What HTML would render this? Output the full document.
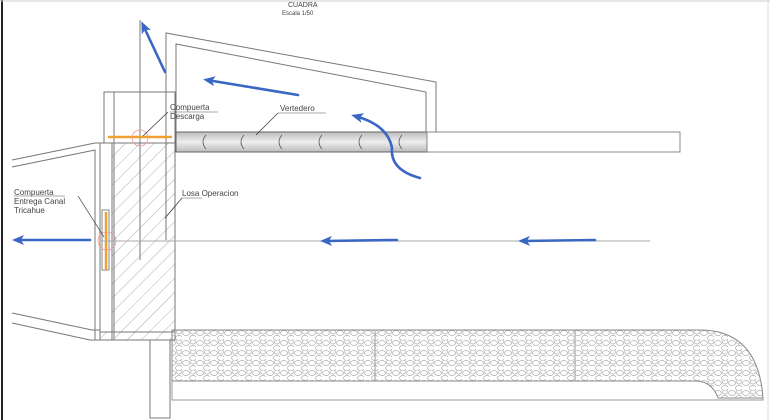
<!DOCTYPE html>
<html><head><style>body{margin:0;background:#fff}svg{display:block}text{font-family:"Liberation Sans",sans-serif;fill:#444}</style></head><body>
<svg width="770" height="420" viewBox="0 0 770 420" xmlns="http://www.w3.org/2000/svg">
<defs>
<pattern id="h" width="10" height="10" patternUnits="userSpaceOnUse" patternTransform="rotate(45)"><line x1="0" y1="0" x2="0" y2="10" stroke="#999" stroke-width="0.8"/></pattern>
<pattern id="g" width="14" height="10" patternUnits="userSpaceOnUse"><ellipse cx="4" cy="3" rx="3.5" ry="2.5" fill="none" stroke="#aaa" stroke-width="0.7"/><ellipse cx="11" cy="8" rx="3.5" ry="2.5" fill="none" stroke="#aaa" stroke-width="0.7"/><ellipse cx="11" cy="2" rx="2.5" ry="2" fill="none" stroke="#aaa" stroke-width="0.7"/></pattern>
<linearGradient id="sl" x1="0" y1="0" x2="0" y2="1"><stop offset="0" stop-color="#bbb"/><stop offset="0.5" stop-color="#eee"/><stop offset="1" stop-color="#bbb"/></linearGradient>
<marker id="a" markerWidth="12" markerHeight="10" refX="8" refY="5" orient="auto" markerUnits="userSpaceOnUse"><path d="M0,0 L12,5 L0,10 L3,5 Z" fill="#3a66c4"/></marker>
</defs>
<line x1="2" y1="0" x2="2" y2="420" stroke="#222" stroke-width="2"/>
<line x1="0" y1="1" x2="770" y2="1" stroke="#ccc"/>
<line x1="768" y1="0" x2="768" y2="420" stroke="#ddd"/>
<text x="288" y="7" font-size="7">CUADRA</text>
<text x="282" y="15" font-size="6">Escala 1/50</text>
<polyline points="166,152 166,33 436,82 436,132" fill="none" stroke="#777" stroke-width="1"/>
<polyline points="176,152 176,44 426,92 426,132" fill="none" stroke="#777" stroke-width="1"/>
<rect x="176" y="132" width="251" height="20" fill="url(#sl)" stroke="#666"/>
<rect x="427" y="132" width="253" height="20" fill="#fff" stroke="#888"/>
<g fill="none" stroke="#555" stroke-width="0.8">
<path d="M206,135 q-6,7 0,14"/><path d="M244,135 q-6,7 0,14"/><path d="M282,135 q-6,7 0,14"/><path d="M322,135 q-6,7 0,14"/><path d="M362,135 q-6,7 0,14"/><path d="M402,135 q-6,7 0,14"/>
</g>
<rect x="104" y="92" width="71" height="248" fill="none" stroke="#777"/>
<rect x="112" y="143" width="63" height="189" fill="url(#h)" stroke="#777"/>
<line x1="114" y1="92" x2="114" y2="340" stroke="#777"/>
<line x1="140" y1="20" x2="140" y2="260" stroke="#777"/>
<line x1="166" y1="92" x2="166" y2="240" stroke="#777"/>
<rect x="100" y="143" width="12" height="197" fill="#fff" stroke="#777"/>
<rect x="102" y="210" width="7" height="60" fill="#fff" stroke="#888"/>
<rect x="100" y="332" width="72" height="8" fill="url(#h)" stroke="#777"/>
<polyline points="12,160 95,143 104,143" fill="none" stroke="#777"/>
<polyline points="12,167 95,150 95,340" fill="none" stroke="#777"/>
<polyline points="12,313 92,330 100,330" fill="none" stroke="#777"/>
<polyline points="12,323 90,340 100,340" fill="none" stroke="#777"/>
<line x1="108" y1="137" x2="172" y2="137" stroke="#f0a030" stroke-width="2.5"/>
<circle cx="140" cy="138" r="8" fill="none" stroke="#e99" stroke-width="0.8"/>
<line x1="106" y1="212" x2="106" y2="270" stroke="#f0a030" stroke-width="2.5"/>
<circle cx="107" cy="241" r="9" fill="none" stroke="#e99" stroke-width="0.8"/>
<line x1="100" y1="241" x2="650" y2="241" stroke="#aaa"/>
<rect x="150" y="340" width="20" height="78" fill="none" stroke="#777"/>
<path d="M172,330 H700 Q758,330 763,398 H718 Q712,381 695,381 H172 Z" fill="url(#g)" stroke="#888"/>
<line x1="375" y1="330" x2="375" y2="381" stroke="#999"/>
<line x1="575" y1="330" x2="575" y2="381" stroke="#999"/>
<polyline points="172,381 172,400 763,400 763,398" fill="none" stroke="#999"/>
<text x="170" y="110" font-size="8">Compuerta</text>
<text x="170" y="119" font-size="8">Descarga</text>
<line x1="170" y1="112" x2="218" y2="112" stroke="#555" stroke-width="0.6"/>
<line x1="168" y1="112" x2="143" y2="136" stroke="#333" stroke-width="0.7"/>
<text x="280" y="111" font-size="8">Vertedero</text>
<line x1="278" y1="113" x2="326" y2="113" stroke="#555" stroke-width="0.6"/>
<line x1="278" y1="113" x2="256" y2="135" stroke="#333" stroke-width="0.7"/>
<text x="14" y="195" font-size="8">Compuerta</text>
<text x="14" y="204" font-size="8">Entrega Canal</text>
<text x="14" y="213" font-size="8">Tricahue</text>
<line x1="14" y1="196" x2="65" y2="196" stroke="#555" stroke-width="0.6"/>
<line x1="78" y1="196" x2="104" y2="237" stroke="#333" stroke-width="0.7"/>
<text x="182" y="196" font-size="8">Losa  Operacion</text>
<line x1="182" y1="198" x2="202" y2="198" stroke="#555" stroke-width="0.6"/>
<line x1="182" y1="198" x2="165" y2="218" stroke="#333" stroke-width="0.7"/>
<g stroke="#3a66c4" stroke-width="2.6" fill="none" stroke-linecap="round" marker-end="url(#a)">
<line x1="165" y1="72" x2="143" y2="25"/>
<line x1="298" y1="95" x2="207" y2="80"/>
<path d="M420,178 Q390,170 392,148 Q388,125 355,116"/>
<line x1="90" y1="240" x2="16" y2="240"/>
<line x1="397" y1="240" x2="324" y2="241"/>
<line x1="595" y1="240" x2="522" y2="241"/>
</g>
</svg>
</body></html>
